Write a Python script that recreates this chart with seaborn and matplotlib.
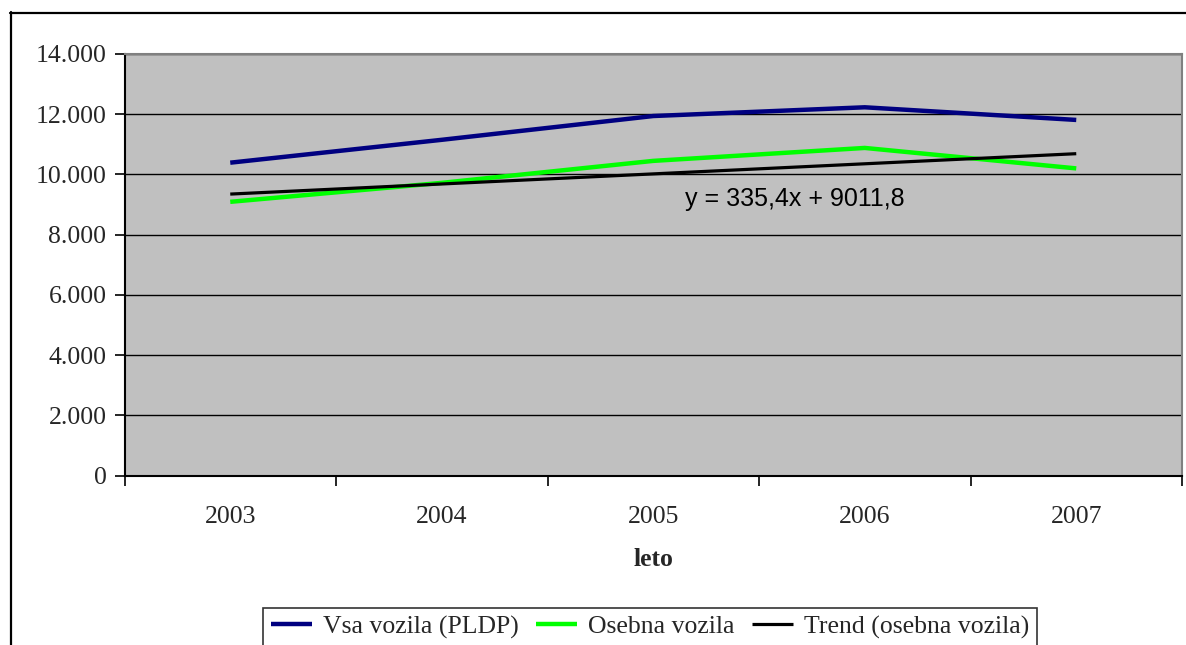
import numpy as np
import pandas as pd
import matplotlib
matplotlib.use("Agg")
import matplotlib.pyplot as plt
from matplotlib.lines import Line2D
from matplotlib.ticker import FuncFormatter, FixedLocator
import seaborn as sns

# Annual average daily traffic by year
years = ["2003", "2004", "2005", "2006", "2007"]
vsa_vozila = [10390, 11150, 11940, 12230, 11810]
osebna_vozila = [9090, 9720, 10450, 10880, 10200]
# Linear trend of passenger cars, x = 1..5
trend_slope = 335.4
trend_intercept = 9011.8

series_names = ["Vsa vozila (PLDP)", "Osebna vozila", "Trend (osebna vozila)"]
colors = ["#000080", "#00FF00", "#000000"]
widths = [3.2, 3.2, 2.3]

xi = np.arange(len(years))
trend = [trend_slope * (i + 1) + trend_intercept for i in xi]

df = pd.DataFrame({
    "x": np.concatenate([xi, xi, xi]),
    "value": np.concatenate([vsa_vozila, osebna_vozila, trend]),
    "series": np.repeat(series_names, len(years)),
})

sns.set_theme(style="white")
plt.rcParams["font.family"] = ["Liberation Serif", "DejaVu Serif"]

FS = 18.5

fig = plt.figure(figsize=(11.86, 6.45), dpi=100)
ax = fig.add_axes([124.5 / 1186, 1 - 475.5 / 645, (1182 - 124.5) / 1186, (475.5 - 54) / 645])
ax.set_facecolor("#C0C0C0")

sns.lineplot(data=df, x="x", y="value", hue="series", palette=colors,
             hue_order=series_names, ax=ax, legend=False, estimator=None)
for line, w in zip(ax.lines, widths):
    line.set_linewidth(w)
    line.set_solid_joinstyle("miter")
    line.set_solid_capstyle("butt")

ax.set_xlim(-0.5, len(years) - 0.5)
ax.set_ylim(0, 14000)
ax.yaxis.set_major_locator(FixedLocator(np.arange(0, 14001, 2000)))
ax.yaxis.set_major_formatter(FuncFormatter(lambda v, p: f"{int(v):,}".replace(",", ".")))
ax.grid(axis="y", color="black", linewidth=1.0)
ax.set_axisbelow(True)

# category boundaries carry the tick marks, labels sit at the centres
ax.set_xticks(np.arange(-0.5, len(years), 1.0))
ax.set_xticklabels([])
ax.set_xticks(xi, minor=True)
ax.set_xticklabels(years, minor=True)
ax.tick_params(axis="x", which="major", direction="out", length=7, width=1.2, color="black")
ax.tick_params(axis="x", which="minor", length=0, labelsize=FS, pad=22)
ax.tick_params(axis="y", direction="out", length=7, width=1.2, color="black", labelsize=FS, pad=6)
ax.tick_params(bottom=True, left=True)

for s in ["left", "bottom"]:
    ax.spines[s].set_color("black")
    ax.spines[s].set_linewidth(1.5)
for s in ["top", "right"]:
    ax.spines[s].set_color("#808080")
    ax.spines[s].set_linewidth(1.5)

ax.set_xlabel("leto", fontsize=FS, fontweight="bold", labelpad=14)
ax.set_ylabel("")

ax.text(2.15, 9200, f"y = {trend_slope:.1f}x + {trend_intercept:.1f}".replace(".", ","),
        fontsize=18, family="Liberation Sans", ha="left", va="center", color="black")

handles = [Line2D([0], [0], color=c, lw=w, solid_capstyle="butt") for c, w in zip(colors, widths)]
leg = fig.legend(handles, series_names, loc="upper center", ncol=3,
                 bbox_to_anchor=(650 / 1186, 1 - 607.5 / 645), frameon=True,
                 fancybox=False, edgecolor="black", fontsize=FS,
                 handlelength=1.6, handletextpad=0.4, columnspacing=0.7,
                 borderpad=0.3, borderaxespad=0.0)
leg.get_frame().set_linewidth(1.2)

# chart border
fig.add_artist(Line2D([10.5 / 1186, 10.5 / 1186], [0, 1 - 12 / 645], color="black",
                      lw=1.6, transform=fig.transFigure))
fig.add_artist(Line2D([10 / 1186, 1], [1 - 12.5 / 645, 1 - 12.5 / 645], color="black",
                      lw=1.6, transform=fig.transFigure))

fig.savefig("out.png", dpi=100, facecolor="white")
